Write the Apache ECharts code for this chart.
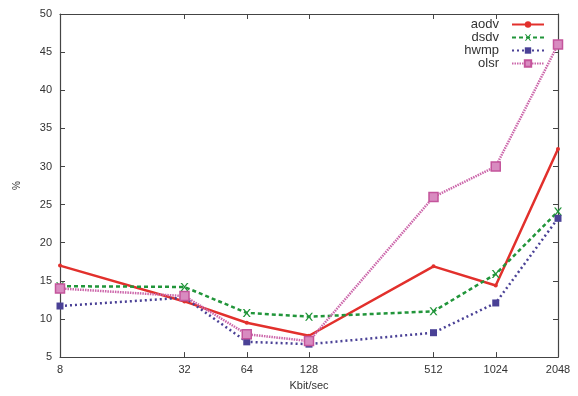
<!DOCTYPE html>
<html>
<head>
<meta charset="utf-8">
<script src="https://cdn.jsdelivr.net/npm/echarts@6/dist/echarts.min.js"></script>
<style>
  html, body { margin: 0; padding: 0; background: #fff; }
  #chart { width: 578px; height: 396px; }
</style>
</head>
<body>
<div id="chart"></div>
<script>
// data
const rates = [8, 32, 64, 128, 512, 1024, 2048];
const aodv = [17.0, 12.3, 9.5, 7.8, 16.9, 14.4, 32.3];
const dsdv = [14.3, 14.2, 10.8, 10.3, 11.0, 15.9, 24.1];
const hwmp = [11.7, 12.8, 7.0, 6.7, 8.2, 12.1, 23.2];
const olsr = [14.0, 13.0, 8.0, 7.1, 26.0, 30.0, 46.0];
const yTicks = [5, 10, 15, 20, 25, 30, 35, 40, 45, 50];

const chart = echarts.init(document.getElementById('chart'));
const axisColor = '#444';
const font = 'Liberation Sans';

const pairs = arr => rates.map((r, i) => [r, arr[i]]);

const mkSeries = (name, data, color, lineType, symbol, symbolSize, width) => ({
  name,
  type: 'line',
  data: pairs(data),
  symbol,
  symbolSize,
  showSymbol: true,
  itemStyle: { color },
  lineStyle: { color, type: lineType, width },
  animation: false,
});

const option = {
  animation: false,
  textStyle: { fontFamily: font },
  grid: { left: 60, right: 20, top: 14, bottom: 34 },
  legend: {
    right: 33,
    top: 18,
    padding: 0,
    orient: 'vertical',
    align: 'right',
    itemGap: 0,
    itemWidth: 32,
    itemHeight: 8,
    textStyle: { fontSize: 13, lineHeight: 11, color: '#333', fontFamily: font, padding: [0, 8, 0, 0] },
    data: ['aodv', 'dsdv', 'hwmp', 'olsr'],
  },
  xAxis: [
    {
      type: 'log',
      logBase: 2,
      min: 8,
      max: 2048,
      name: 'Kbit/sec',
      nameLocation: 'middle',
      nameGap: 22,
      nameTextStyle: { fontSize: 11, color: '#333' },
      axisLine: { lineStyle: { color: axisColor, width: 1.2 } },
      axisTick: { inside: true, length: 5, customValues: rates, lineStyle: { color: axisColor } },
      axisLabel: { customValues: rates, fontSize: 11, color: '#333', margin: 7, formatter: v => String(Math.round(v)) },
      splitLine: { show: false },
    },
    {
      type: 'log',
      logBase: 2,
      min: 8,
      max: 2048,
      position: 'top',
      axisLine: { lineStyle: { color: axisColor, width: 1.2 } },
      axisTick: { inside: true, length: 5, customValues: rates, lineStyle: { color: axisColor } },
      axisLabel: { show: false },
      splitLine: { show: false },
    },
  ],
  yAxis: [
    {
      type: 'value',
      min: 5,
      max: 50,
      interval: 5,
      name: '%',
      nameLocation: 'middle',
      nameGap: 38,
      nameRotate: 90,
      nameTextStyle: { fontSize: 10, color: '#333' },
      axisLine: { show: true, lineStyle: { color: axisColor, width: 1.2 } },
      axisTick: { show: true, inside: true, length: 5, lineStyle: { color: axisColor } },
      axisLabel: { fontSize: 11, color: '#333', margin: 8, customValues: yTicks },
      splitLine: { show: false },
    },
    {
      type: 'value',
      min: 5,
      max: 50,
      interval: 5,
      position: 'right',
      axisLine: { show: true, lineStyle: { color: axisColor, width: 1.2 } },
      axisTick: { show: true, inside: true, length: 5, lineStyle: { color: axisColor } },
      axisLabel: { show: false },
      splitLine: { show: false },
    },
  ],
  series: [
    mkSeries('aodv', aodv, '#e2302c', 'solid', 'circle', 4, 2.5),
    mkSeries('dsdv', dsdv, '#21953a', [4, 3], 'path://M0,0 L2,0 L5,3 L8,0 L10,0 L6,4 L10,8 L8,8 L5,5 L2,8 L0,8 L4,4 Z', 8, 2.5),
    mkSeries('hwmp', hwmp, '#4a4196', [2, 3], 'rect', 7, 2.5),
    mkSeries('olsr', olsr, '#cc66aa', [1.5, 1], 'rect', 9, 2.5),
  ],
};
option.series[3].itemStyle = { color: '#d88bc0', borderColor: '#c4549b', borderWidth: 1.5 };

chart.setOption(option);
</script>
</body>
</html>
